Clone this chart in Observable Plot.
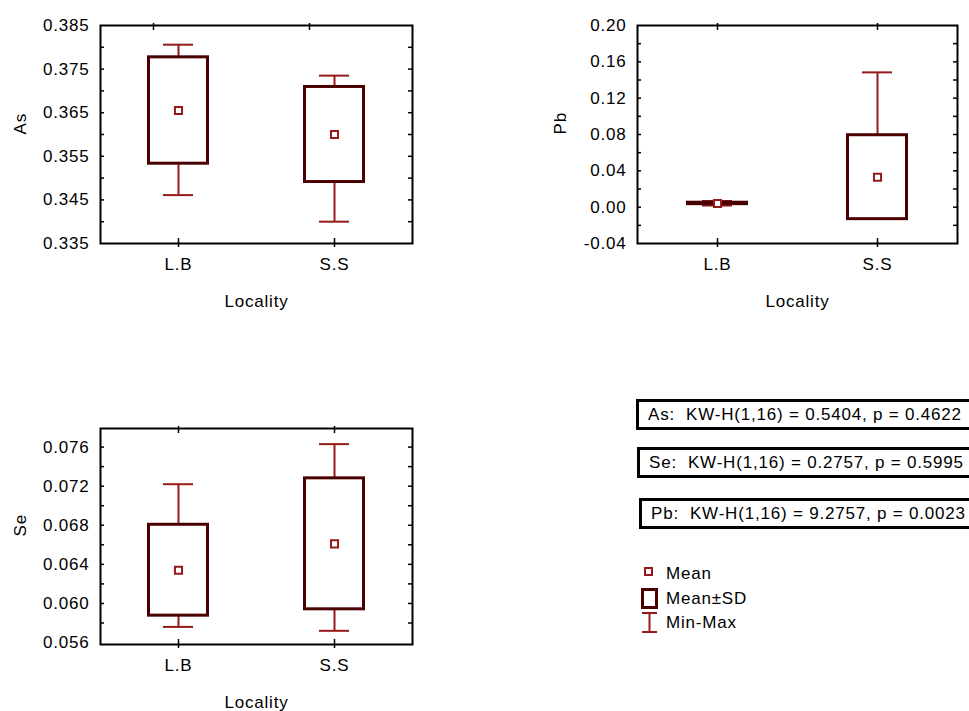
<!DOCTYPE html>
<html>
<head>
<meta charset="utf-8">
<script src="https://cdn.jsdelivr.net/npm/d3@7"></script>
<script src="https://cdn.jsdelivr.net/npm/@observablehq/plot@0.6"></script>
<style>
  body { margin: 0; background: #fff; }
  #root { position: relative; width: 969px; height: 711px; overflow: hidden; background: #fff;
          font-family: "Liberation Sans", Arial, sans-serif; color: #000; }
  .panel { position: absolute; }
  .kw { position: absolute; height: 31px; width: 420px; box-sizing: border-box; border: 3px solid #000;
        display: flex; align-items: center; padding-left: 9px; font-size: 17px; letter-spacing: 0.8px;
        white-space: pre; background: #fff; }
  .leg { position: absolute; font-size: 17px; letter-spacing: 0.8px; white-space: pre; line-height: 20px; }
  .legicon { position: absolute; }
</style>
</head>
<body>
<div id="root"></div>
<script>
// ---- data ----
const localities = ["L.B", "S.S"];

const asMean = [0.3655, 0.3600];
const asSD   = [0.0122, 0.0109];
const asMin  = [0.3461, 0.3400];
const asMax  = [0.3806, 0.3735];

const pbMean = [0.0041, 0.0330];
const pbSD   = [0.0008, 0.0462];
const pbMin  = [0.0018, 0.0016];
const pbMax  = [0.0068, 0.1484];

const seMean = [0.0634, 0.0661];
const seSD   = [0.00465, 0.0067];
const seMin  = [0.0576, 0.0572];
const seMax  = [0.0722, 0.0763];

const asTicks = [0.335, 0.345, 0.355, 0.365, 0.375, 0.385];
const pbTicks = [-0.04, 0.00, 0.04, 0.08, 0.12, 0.16, 0.20];
const seTicks = [0.056, 0.060, 0.064, 0.068, 0.072, 0.076];

const kwTests = [
  "As:  KW-H(1,16) = 0.5404, p = 0.4622",
  "Se:  KW-H(1,16) = 0.2757, p = 0.5995",
  "Pb:  KW-H(1,16) = 9.2757, p = 0.0023"
];
const legendLabels = ["Mean", "Mean\u00b1SD", "Min-Max"];
const xTitle = "Locality";

// ---- styles ----
const DARK = "#4b0000";
const RED = "#961a1a";
const FONT = "'Liberation Sans', Arial, sans-serif";

const root = document.getElementById("root");
const fmtFix = (f) => (d) => f(d).replace("\u2212", "-");

function panel(o) {
  const rows = localities.map((c, i) => ({
    c, mean: o.mean[i], lo: o.mean[i] - o.sd[i], hi: o.mean[i] + o.sd[i], min: o.min[i], max: o.max[i]
  }));
  const fw = o.width - o.mL - o.mR;
  const bw = fw / localities.length;
  const boxInset = (bw - 59) / 2;
  const capInset = (bw - 30) / 2;
  const step = (o.ticks[1] - o.ticks[0]) / 2;
  const minor = [];
  for (let v = o.ticks[0] + step; v < o.domain[1] - step * 0.2; v += step) minor.push(+v.toFixed(6));
  const up = rows.filter(d => d.max > d.hi);
  const dn = rows.filter(d => d.min < d.lo);
  const chart = Plot.plot({
    width: o.width, height: o.height,
    marginLeft: o.mL, marginRight: o.mR, marginTop: o.mT, marginBottom: o.mB,
    style: { fontFamily: FONT, fontSize: "17px", letterSpacing: "0.8px", color: "#000", background: "transparent" },
    x: { type: "band", domain: localities, padding: 0 },
    y: { domain: o.domain },
    marks: [
      Plot.ruleX(up, { x: "c", y1: "hi", y2: "max", stroke: RED, strokeWidth: 2 }),
      Plot.ruleX(dn, { x: "c", y1: "lo", y2: "min", stroke: RED, strokeWidth: 2 }),
      Plot.tickY(up, { x: "c", y: "max", stroke: RED, strokeWidth: 2, insetLeft: capInset, insetRight: capInset }),
      Plot.tickY(dn, { x: "c", y: "min", stroke: RED, strokeWidth: 2, insetLeft: capInset, insetRight: capInset }),
      Plot.barY(rows, { x: "c", y1: "lo", y2: "hi", fill: "white", stroke: DARK, strokeWidth: 3,
                        insetLeft: boxInset, insetRight: boxInset }),
      Plot.dot(rows, { x: "c", y: "mean", symbol: "square", r: 4, stroke: RED, strokeWidth: 2, fill: "white" }),
      // inward ticks on left and right
      Plot.tickY(minor, { y: d => d, insetRight: fw - 4, stroke: "#000", strokeWidth: 1.5 }),
      Plot.tickY(minor, { y: d => d, insetLeft: fw - 4, stroke: "#000", strokeWidth: 1.5 }),
      Plot.frame({ stroke: "#000", strokeWidth: 2 }),
      Plot.axisY({ ticks: o.ticks, anchor: "left", tickSize: 0, tickPadding: 11, tickFormat: fmtFix(o.fmt),
                   label: null, fontSize: 17 }),
      Plot.axisX({ anchor: "bottom", tickSize: 4, tickPadding: 10, label: null, fontSize: 17, strokeWidth: 1.5 }),
      Plot.axisX({ anchor: "bottom", tickSize: -5, tickFormat: () => "", label: null, strokeWidth: 1.5 }),
      Plot.axisX({ anchor: "top", tickSize: 3, tickFormat: () => "", label: null, strokeWidth: 1.5, dx: o.topDx || 0 }),
      Plot.axisX({ anchor: "top", tickSize: -4, tickFormat: () => "", label: null, strokeWidth: 1.5, dx: o.topDx || 0 }),
      Plot.text([o.label], { frameAnchor: "left", rotate: -90, dx: o.labelDx, fontSize: 17, fill: "#000" }),
      Plot.text([xTitle], { frameAnchor: "bottom", lineAnchor: "top", dy: 51, fontSize: 17, fill: "#000" })
    ]
  });
  const div = document.createElement("div");
  div.className = "panel";
  div.style.left = o.left + "px";
  div.style.top = o.top + "px";
  div.appendChild(chart);
  root.appendChild(div);
}

panel({ label: "As", mean: asMean, sd: asSD, min: asMin, max: asMax,
        domain: [0.335, 0.385], ticks: asTicks, fmt: d3.format(".3f"),
        left: 0, top: 0, width: 430, height: 320, mL: 100, mR: 18, mT: 25, mB: 77, labelDx: -80, topDx: -25 });

panel({ label: "Pb", mean: pbMean, sd: pbSD, min: pbMin, max: pbMax,
        domain: [-0.04, 0.20], ticks: pbTicks, fmt: d3.format(".2f"),
        left: 540, top: 0, width: 429, height: 320, mL: 97, mR: 12, mT: 25, mB: 77, labelDx: -77 });

panel({ label: "Se", mean: seMean, sd: seSD, min: seMin, max: seMax,
        domain: [0.0558, 0.0779], ticks: seTicks, fmt: d3.format(".3f"),
        left: 0, top: 400, width: 430, height: 311, mL: 100, mR: 18, mT: 28, mB: 67, labelDx: -80 });

// ---- Kruskal-Wallis result boxes ----
const kwPos = [[636, 399], [637, 447], [639, 498]];
kwTests.forEach((t, i) => {
  const d = document.createElement("div");
  d.className = "kw";
  d.style.left = kwPos[i][0] + "px";
  d.style.top = kwPos[i][1] + "px";
  d.textContent = t;
  root.appendChild(d);
});

// ---- legend ----
const NS = "http://www.w3.org/2000/svg";
const icons = [
  `<rect x="5" y="5" width="7" height="7" fill="white" stroke="${RED}" stroke-width="2"/>`,
  `<rect x="2.5" y="1.5" width="14" height="18" fill="white" stroke="${DARK}" stroke-width="3"/>`,
  `<line x1="9.5" y1="1" x2="9.5" y2="20" stroke="${RED}" stroke-width="2"/>
   <line x1="2" y1="1" x2="17" y2="1" stroke="${RED}" stroke-width="2"/>
   <line x1="2" y1="20" x2="17" y2="20" stroke="${RED}" stroke-width="2"/>`
];
const legY = [574, 599, 623];
legendLabels.forEach((lab, i) => {
  const s = document.createElementNS(NS, "svg");
  s.setAttribute("width", 20); s.setAttribute("height", 22);
  s.setAttribute("class", "legicon");
  s.style.left = "640px";
  s.style.top = (legY[i] - 11) + "px";
  s.innerHTML = icons[i];
  root.appendChild(s);
  const t = document.createElement("div");
  t.className = "leg";
  t.style.left = "666px";
  t.style.top = (legY[i] - 10) + "px";
  t.textContent = lab;
  root.appendChild(t);
});
</script>
</body>
</html>
